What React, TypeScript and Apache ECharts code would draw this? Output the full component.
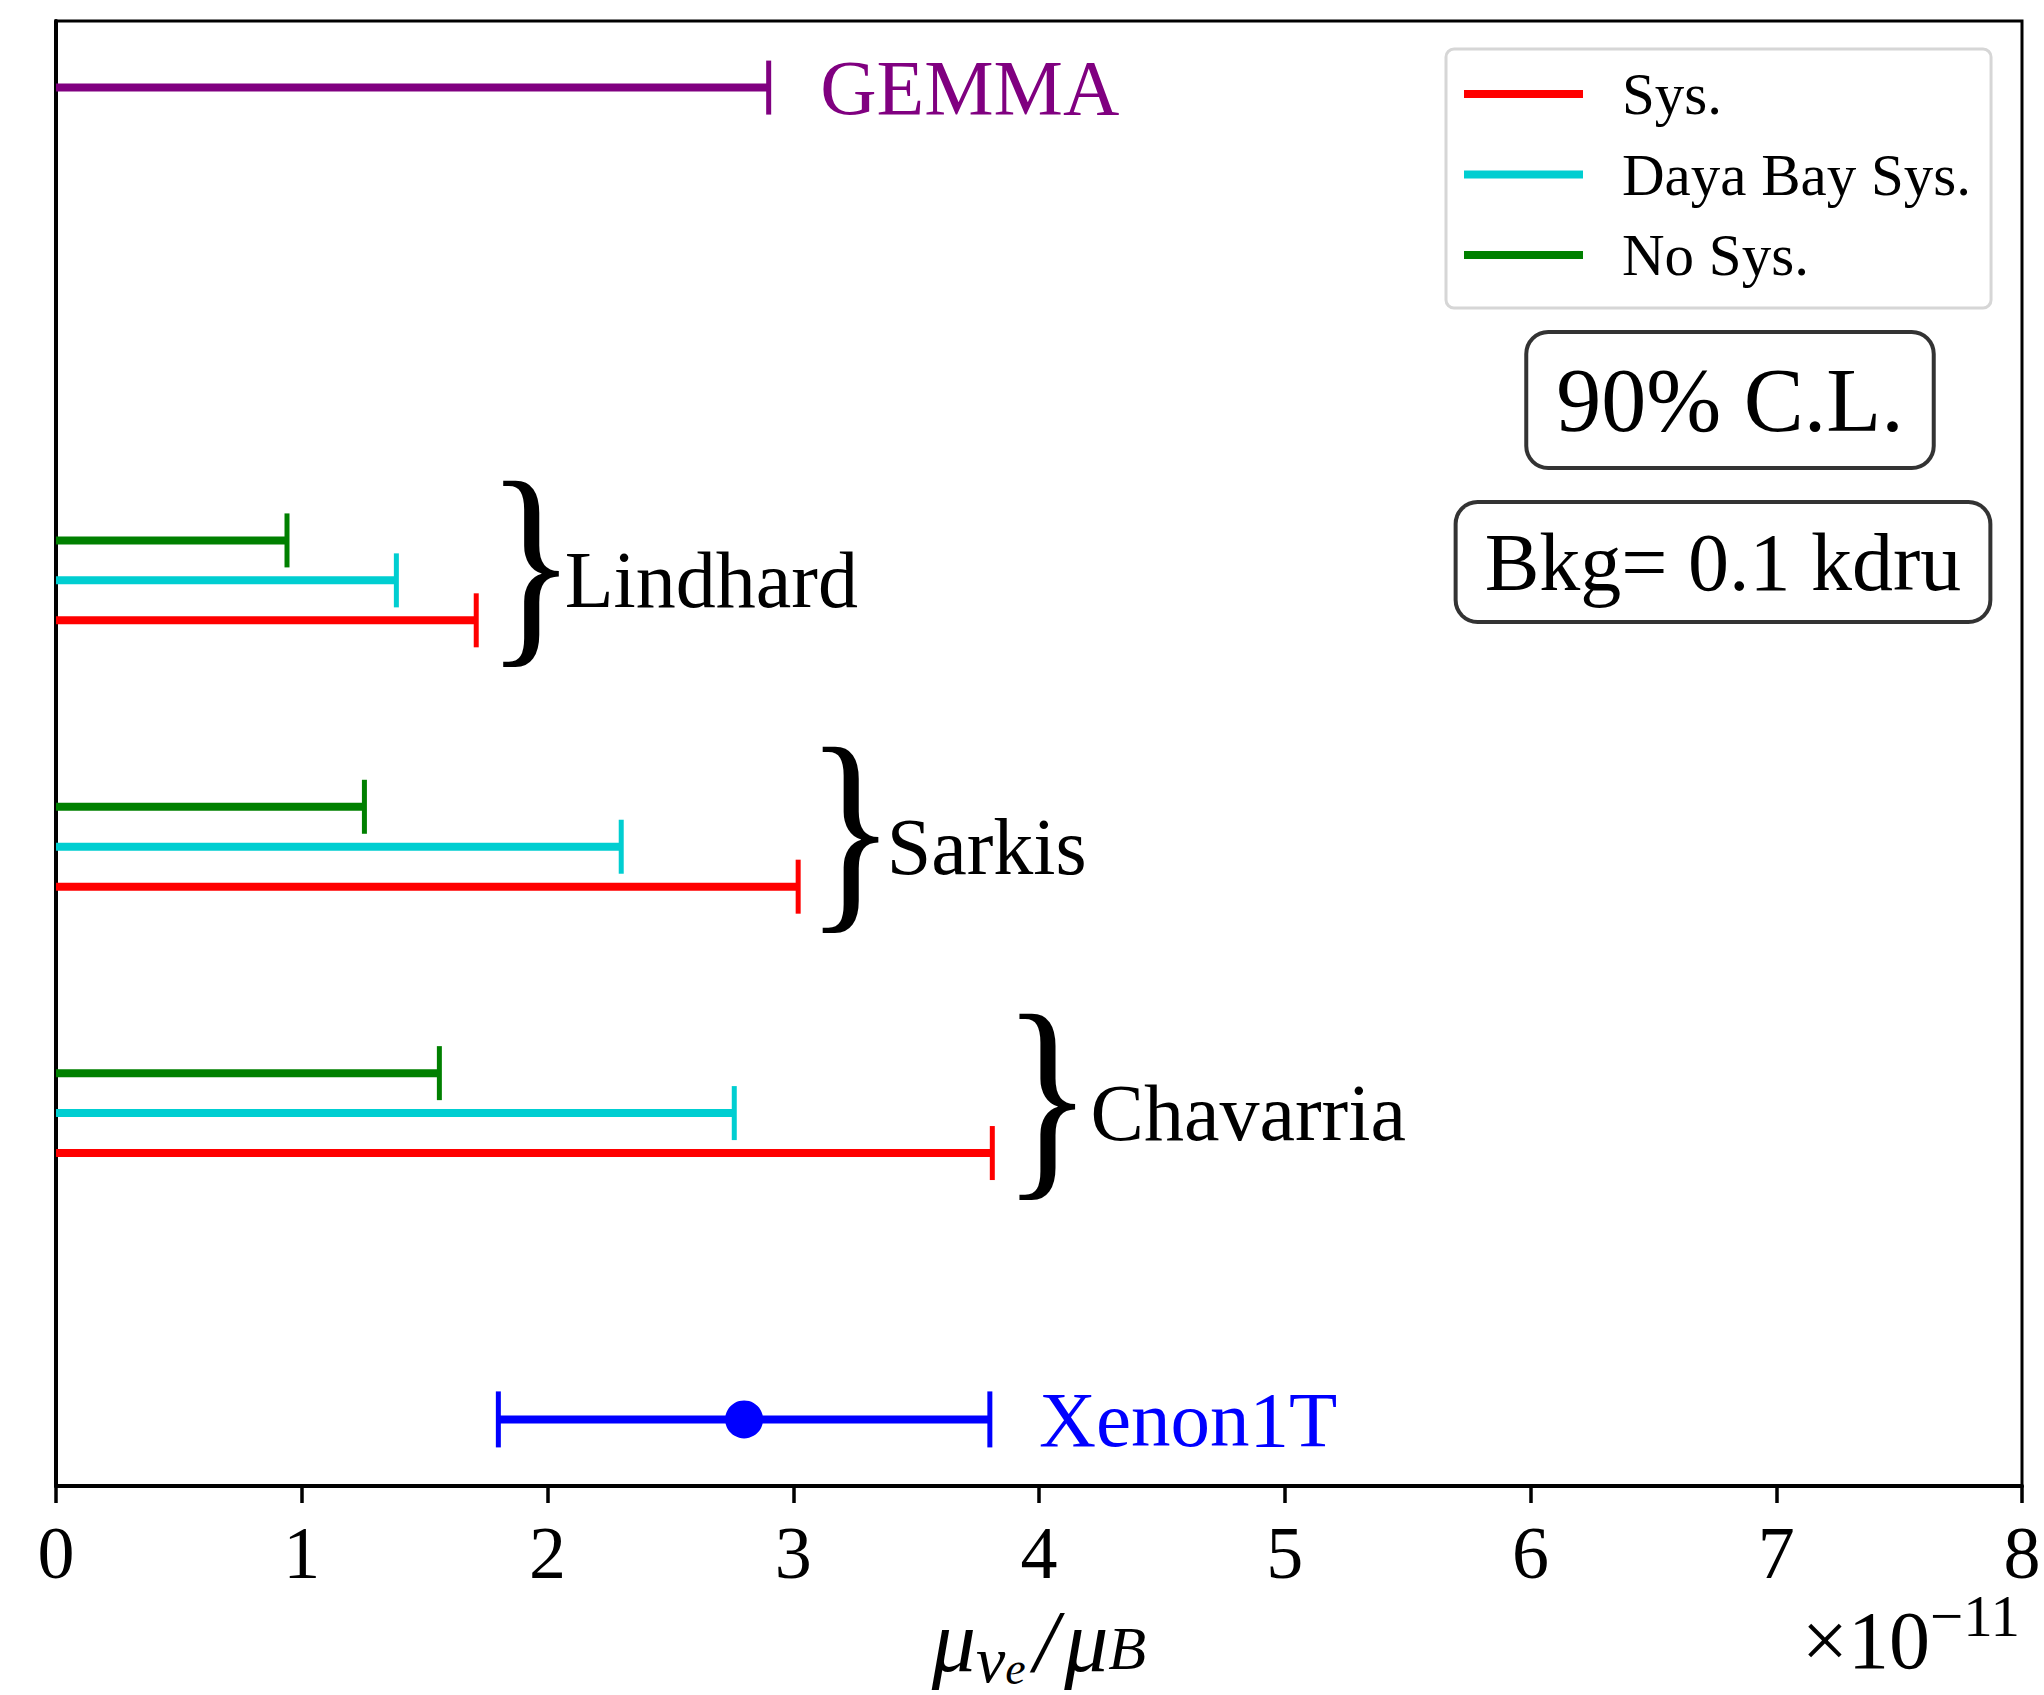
import React, { useEffect, useRef } from 'react';
import * as echarts from 'echarts';

// ---- data ----
const groupNames = ['Lindhard', 'Sarkis', 'Chavarria'];
const groupY = [3.4, 2.4, 1.4];
const sysLimits = [1.71, 3.02, 3.81];
const dayaBayLimits = [1.385, 2.3, 2.76];
const noSysLimits = [0.94, 1.255, 1.56];
const seriesNames = ['Sys.', 'Daya Bay Sys.', 'No Sys.'];
const seriesColors = ['#ff0000', '#00ced1', '#008000'];
const rowOffsets = [-0.15, 0, 0.15];

const gemmaLimit = 2.9;
const gemmaY = 5.25;

const xenonCentral = 2.8;
const xenonLow = 1.8;
const xenonHigh = 3.8;
const xenonY = 0.25;

const xMin = 0;
const xMax = 8;
const xTickStep = 1;
const yMin = 0;
const yMax = 5.5;

const braceX = [1.8, 3.1, 3.9];
const annotationTexts = ['GEMMA', 'Lindhard', 'Sarkis', 'Chavarria', 'Xenon1T'];
const annotationX = [3.11, 2.07, 3.38, 4.21, 4.0];
const annotationY = [5.25, 3.4, 2.4, 1.4, 0.25];
const annotationSizes = [78, 80, 80, 80, 79];
const annotationColors = ['#800080', '#000000', '#000000', '#000000', '#0000ff'];

const FONT = '"Liberation Serif", "DejaVu Serif", serif';

function limitSeries(name: string, color: string, limits: number[], offset: number) {
  return {
    type: 'custom',
    name,
    coordinateSystem: 'cartesian2d',
    itemStyle: { color },
    encode: { x: [0, 1], y: 2 },
    data: limits.map((v, i) => [0, v, groupY[i] + offset]),
    renderItem: (params: any, api: any) => {
      const y = api.value(2);
      const p0 = api.coord([api.value(0), y]);
      const p1 = api.coord([api.value(1), y]);
      return {
        type: 'group',
        children: [
          { type: 'line', shape: { x1: p0[0], y1: p0[1], x2: p1[0], y2: p1[1] }, style: { stroke: color, lineWidth: 8 } },
          { type: 'line', shape: { x1: p1[0], y1: p1[1] - 27, x2: p1[0], y2: p1[1] + 27 }, style: { stroke: color, lineWidth: 5 } },
        ],
      };
    },
  };
}

export default function App() {
  const ref = useRef<HTMLDivElement>(null);
  useEffect(() => {
    if (!ref.current) return;
    const chart = echarts.init(ref.current, undefined, { renderer: 'svg' });
    const limitsBySeries = [sysLimits, dayaBayLimits, noSysLimits];
    const series: any[] = seriesNames.map((n, k) => limitSeries(n, seriesColors[k], limitsBySeries[k], rowOffsets[k]));

    series.push({
      type: 'custom',
      name: 'GEMMA',
      coordinateSystem: 'cartesian2d',
      encode: { x: [0, 1], y: 2 },
      data: [[0, gemmaLimit, gemmaY]],
      renderItem: (params: any, api: any) => {
        const y = api.value(2);
        const p0 = api.coord([api.value(0), y]);
        const p1 = api.coord([api.value(1), y]);
        const c = '#800080';
        return {
          type: 'group',
          children: [
            { type: 'line', shape: { x1: p0[0], y1: p0[1], x2: p1[0], y2: p1[1] }, style: { stroke: c, lineWidth: 8 } },
            { type: 'line', shape: { x1: p1[0], y1: p1[1] - 27, x2: p1[0], y2: p1[1] + 27 }, style: { stroke: c, lineWidth: 5 } },
          ],
        };
      },
    });

    series.push({
      type: 'custom',
      name: 'Xenon1T',
      coordinateSystem: 'cartesian2d',
      encode: { x: [0, 1, 2], y: 3 },
      data: [[xenonLow, xenonHigh, xenonCentral, xenonY]],
      z: 5,
      renderItem: (params: any, api: any) => {
        const y = api.value(3);
        const p0 = api.coord([api.value(0), y]);
        const p1 = api.coord([api.value(1), y]);
        const pc = api.coord([api.value(2), y]);
        const c = '#0000ff';
        return {
          type: 'group',
          children: [
            { type: 'line', shape: { x1: p0[0], y1: p0[1], x2: p1[0], y2: p1[1] }, style: { stroke: c, lineWidth: 8 } },
            { type: 'line', shape: { x1: p0[0], y1: p0[1] - 28, x2: p0[0], y2: p0[1] + 28 }, style: { stroke: c, lineWidth: 5 } },
            { type: 'line', shape: { x1: p1[0], y1: p1[1] - 28, x2: p1[0], y2: p1[1] + 28 }, style: { stroke: c, lineWidth: 5 } },
            { type: 'circle', shape: { cx: pc[0], cy: pc[1], r: 19 }, style: { fill: c } },
          ],
        };
      },
    });

    series.push({
      type: 'custom',
      name: 'braces',
      coordinateSystem: 'cartesian2d',
      encode: { x: 0, y: 1 },
      data: braceX.map((x, i) => [x, groupY[i]]),
      renderItem: (params: any, api: any) => {
        const p = api.coord([api.value(0), api.value(1)]);
        return {
          type: 'text',
          x: p[0] - 12,
          y: p[1] - 19,
          scaleX: 0.88,
          scaleY: 1.06,
          style: { text: '}', fontSize: 212, fontFamily: FONT, fill: '#000', align: 'left', verticalAlign: 'middle' },
        };
      },
    });

    series.push({
      type: 'custom',
      name: 'labels',
      coordinateSystem: 'cartesian2d',
      encode: { x: 0, y: 1 },
      data: annotationX.map((x, i) => [x, annotationY[i], i]),
      renderItem: (params: any, api: any) => {
        const p = api.coord([api.value(0), api.value(1)]);
        const idx = api.value(2);
        return {
          type: 'text',
          x: p[0],
          y: p[1],
          style: {
            text: annotationTexts[idx],
            fontSize: annotationSizes[idx],
            fontFamily: FONT,
            fill: annotationColors[idx],
            align: 'left',
            verticalAlign: 'middle',
          },
        };
      },
    });

    chart.setOption({
      animation: false,
      backgroundColor: '#ffffff',
      grid: {
        left: 56, right: 22, top: 21, bottom: 1695 - 1486,
        outerBoundsMode: 'none', containLabel: false,
        show: true, borderColor: '#000', borderWidth: 3, backgroundColor: 'transparent',
      },
      legend: {
        data: seriesNames,
        orient: 'vertical',
        left: 1446,
        top: 49,
        padding: [15, 20, 23, 18],
        itemGap: 20.5,
        itemWidth: 119,
        itemHeight: 8,
        icon: 'rect',
        borderColor: '#d6d6d6',
        borderWidth: 3,
        borderRadius: 8,
        backgroundColor: '#ffffff',
        formatter: (name: string) => `{g| }{t|${name}}`,
        textStyle: {
          color: '#000',
          fontFamily: FONT,
          fontSize: 59,
          lineHeight: 60,
          rich: {
            g: { width: 34, fontSize: 59, fontFamily: FONT, lineHeight: 60 },
            t: { fontSize: 59, fontFamily: FONT, lineHeight: 60, color: '#000' },
          },
        },
        selectedMode: false,
      },
      xAxis: {
        type: 'value',
        min: xMin,
        max: xMax,
        interval: xTickStep,
        axisLine: { show: true, onZero: false, lineStyle: { color: '#000', width: 4 } },
        axisTick: { show: true, length: 17, lineStyle: { color: '#000', width: 3.5 } },
        axisLabel: { fontSize: 74, fontFamily: FONT, color: '#000', margin: 30 },
        splitLine: { show: false },
        name: '{m|μ}{s|ν}{e|e}{sl|/}{m|μ}{b|B}',
        nameLocation: 'middle',
        nameGap: 104,
        nameTextStyle: {
          color: '#000',
          fontFamily: FONT,
          fontStyle: 'italic',
          rich: {
            m: { fontSize: 88, fontFamily: FONT, fontStyle: 'italic', color: '#000' },
            s: { fontSize: 66, fontFamily: FONT, fontStyle: 'italic', color: '#000', padding: [36, 0, 0, 0] },
            e: { fontSize: 46, fontFamily: FONT, fontStyle: 'italic', color: '#000', padding: [54, 8, 0, 0] },
            sl: { fontSize: 88, fontFamily: FONT, fontStyle: 'italic', color: '#000', padding: [0, 6, 0, 0] },
            b: { fontSize: 62, fontFamily: FONT, fontStyle: 'italic', color: '#000', padding: [14, 0, 0, 0] },
          },
        },
      },
      yAxis: {
        type: 'value',
        min: yMin,
        max: yMax,
        axisLine: { show: true, onZero: false, lineStyle: { color: '#000', width: 4 } },
        axisTick: { show: false },
        axisLabel: { show: false },
        splitLine: { show: false },
      },
      graphic: [
        {
          type: 'text',
          x: 2020,
          y: 1640,
          style: {
            text: '{a|×10}{b|−11}',
            align: 'right',
            verticalAlign: 'middle',
            fill: '#000',
            rich: {
              a: { fontSize: 82, fontFamily: FONT, color: '#000' },
              b: { fontSize: 59, fontFamily: FONT, color: '#000', padding: [0, 0, 48, 0] },
            },
          },
        },
        {
          type: 'text',
          x: 1730,
          y: 400,
          style: {
            text: '90% C.L.',
            fontSize: 90,
            fontFamily: FONT,
            fill: '#000',
            align: 'center',
            verticalAlign: 'middle',
            backgroundColor: '#ffffff',
            borderColor: '#333333',
            borderWidth: 4,
            borderRadius: 20,
            padding: [21, 28, 21, 28],
          },
        },
        {
          type: 'text',
          x: 1723,
          y: 562,
          style: {
            text: 'Bkg= 0.1 kdru',
            fontSize: 82,
            fontFamily: FONT,
            fill: '#000',
            align: 'center',
            verticalAlign: 'middle',
            backgroundColor: '#ffffff',
            borderColor: '#333333',
            borderWidth: 4,
            borderRadius: 20,
            padding: [17, 27, 17, 27],
          },
        },
      ],
      series,
    });
    return () => chart.dispose();
  }, []);
  return <div ref={ref} style={{ position: 'absolute', left: 0, top: 0, width: 2044, height: 1695 }} />;
}
